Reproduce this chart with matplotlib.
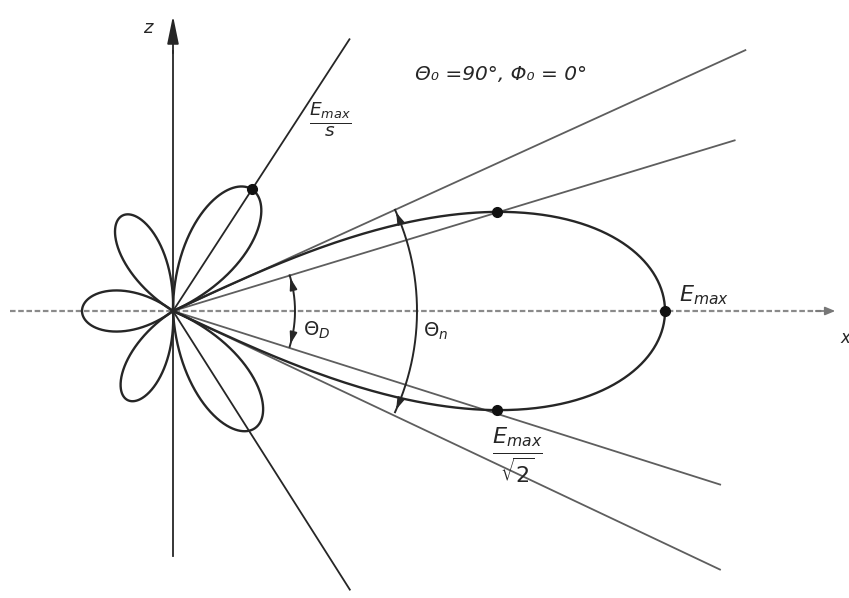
import numpy as np
import matplotlib
matplotlib.use("Agg")
import matplotlib.pyplot as plt

plt.rcParams['mathtext.fontset'] = 'dejavusans'

# ---- pattern data (directions in degrees, lengths in drawing units) ----
lobe_names = ["main", "upper_right", "lower_right", "upper_left", "lower_left", "back"]
lobe_dir_deg = [0, 57, -55, 118, -117, 180]
lobe_len = [492, 145, 143, 108, 100, 91]
lobe_null_halfwidth_deg = [25, 33, 32, 30, 30, 37]
lobe_exponent = [0.51, 1.0, 1.0, 1.0, 1.0, 1.0]

half_power_deg = 17          # direction of the -3 dB points
ray_angles_deg = [24.5, 16.9, -17.6, -25.3, 57, -57.6]
ray_lengths = [629, 587, 574, 605, 324, 330]
theta_D_radius = 122
theta_n_radius = 244
theta_n_halfangle = 24.5

W, H = 849, 598
ox, oy = 173, 311   # origin of the diagram in picture pixels

fig = plt.figure(figsize=(W / 100, H / 100), dpi=100)
ax = fig.add_axes([0, 0, 1, 1])
ax.set_xlim(-ox, W - ox)
ax.set_ylim(-(H - oy), oy)
ax.axis('off')

ink = '#262626'
gray = '#5e5e5e'


def lobe_r(phi_deg, i):
    d = np.asarray(phi_deg) - lobe_dir_deg[i]
    hw = lobe_null_halfwidth_deg[i]
    c = np.clip(np.cos(np.pi / 2 * d / hw), 0, None)
    return lobe_len[i] * c ** lobe_exponent[i]


# axes
ax.plot([-163, 655], [0, 0], color='#8a8a8a', lw=1.6, ls=(0, (2.5, 1.2)), zorder=1)
ax.annotate('', xy=(665, 0), xytext=(640, 0),
            arrowprops=dict(arrowstyle='-|>,head_length=0.6,head_width=0.25',
                            color='#777777', lw=1.2))
ax.plot([0, 0], [-245, 260], color=ink, lw=1.3, zorder=2)
ax.annotate('', xy=(0, 298), xytext=(0, 255),
            arrowprops=dict(arrowstyle='-|>,head_length=1.7,head_width=0.35',
                            color=ink, lw=1.3))

# rays from origin
for a, L in zip(ray_angles_deg, ray_lengths):
    t = np.radians(a)
    col = ink if abs(a) > 40 else gray
    ax.plot([0, L * np.cos(t)], [0, L * np.sin(t)], color=col, lw=1.3, zorder=2)

# lobes
for i in range(len(lobe_names)):
    hw = lobe_null_halfwidth_deg[i]
    phi = np.linspace(lobe_dir_deg[i] - hw, lobe_dir_deg[i] + hw, 400)
    r = lobe_r(phi, i)
    t = np.radians(phi)
    ax.plot(r * np.cos(t), r * np.sin(t), color=ink, lw=1.7, zorder=3)

# marked points
pts_phi = [0, half_power_deg, -half_power_deg]
for p in pts_phi:
    r = lobe_r(p, 0)
    ax.plot(r * np.cos(np.radians(p)), r * np.sin(np.radians(p)), 'o',
            color='#111111', ms=7, zorder=4)
r_s = lobe_len[1]
ax.plot(r_s * np.cos(np.radians(lobe_dir_deg[1])), r_s * np.sin(np.radians(lobe_dir_deg[1])),
        'o', color='#111111', ms=7, zorder=4)


# angle arcs with arrowheads
def arc(radius, half):
    t = np.radians(np.linspace(-half, half, 200))
    ax.plot(radius * np.cos(t), radius * np.sin(t), color=ink, lw=1.4, zorder=3)
    for s in (1, -1):
        te = np.radians(s * half)
        tb = np.radians(s * (half - 5 * 120 / radius))
        ax.annotate('', xy=(radius * np.cos(te), radius * np.sin(te)),
                    xytext=(radius * np.cos(tb), radius * np.sin(tb)),
                    arrowprops=dict(arrowstyle='-|>,head_length=0.7,head_width=0.22',
                                    color=ink, lw=1.2))


arc(theta_D_radius, half_power_deg)
arc(theta_n_radius, theta_n_halfangle)

# texts
ax.text(-25, 283, 'z', fontsize=13, style='italic', ha='center', va='center', color=ink)
ax.text(672, -27, 'x', fontsize=12, style='italic', ha='center', va='center', color=ink)
ax.text(242, 236, 'Θ₀ =90°, Φ₀ = 0°', fontsize=14.5, style='italic',
        ha='left', va='center', color=ink)
ax.text(157, 192, r'$\frac{E_{max}}{s}$', fontsize=19, ha='center', va='center', color=ink)
ax.text(144, -19, r'$\mathit{\Theta}_D$', fontsize=14, ha='center', va='center', color=ink)
ax.text(263, -20, r'$\mathit{\Theta}_n$', fontsize=14, ha='center', va='center', color=ink)
ax.text(531, 16, r'$E_{max}$', fontsize=16, ha='center', va='center', color=ink)
ax.text(344, -144, r'$\frac{E_{max}}{\sqrt{2}}$', fontsize=23, ha='center', va='center', color=ink)

fig.savefig('out.png', dpi=100)
